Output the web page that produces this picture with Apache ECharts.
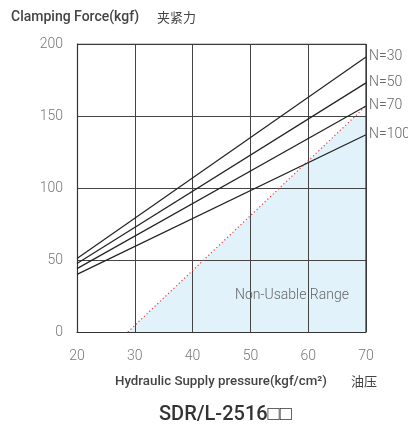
<!DOCTYPE html>
<html><head><meta charset="utf-8">
<script src="https://cdn.jsdelivr.net/npm/echarts@6/dist/echarts.min.js"></script>
<style>html,body{margin:0;padding:0;background:#fff}#c{width:408px;height:425px}</style>
</head><body><div id="c"></div>
<script>
const xTicks = [20, 30, 40, 50, 60, 70];
const yTicks = [0, 50, 100, 150, 200];
const seriesNames = ['N=30', 'N=50', 'N=70', 'N=100'];
const pressure = [20, 70];
const n30 = [51, 191];
const n50 = [47.5, 173];
const n70 = [44, 157];
const n100 = [40, 137];
const limitLine = [[28.8, 0], [70, 157]];
const nonUsableArea = [[28.8, 0], [68.2, 150], [70, 150]];

const chart = echarts.init(document.getElementById('c'));
const lineVals = [n30, n50, n70, n100];
const lineSeries = lineVals.map((vals, i) => ({
  type: 'line', name: seriesNames[i], symbol: 'none', z: 5,
  data: pressure.map((p, j) => [p, vals[j]]),
  lineStyle: {color: '#222', width: 1.2},
  endLabel: {show: true, formatter: seriesNames[i], color: '#666', fontSize: 14,
    fontFamily: 'Roboto', fontWeight: 300, distance: 3}
}));
chart.setOption({
  animation: false,
  grid: {left: 77, right: 42, top: 44, bottom: 93},
  title: [
    {text: 'Clamping Force(kgf)', left: 6, top: 5,
     textStyle: {fontSize: 14, fontWeight: 500, color: '#444', fontFamily: 'Roboto'}},
    {text: '夹紧力', left: 152, top: 6,
     textStyle: {fontSize: 13, fontWeight: 400, color: '#444', fontFamily: 'Noto Sans CJK SC'}},
    {text: 'Hydraulic Supply pressure(kgf/cm²)', left: 110, top: 370,
     textStyle: {fontSize: 13.3, fontWeight: 500, color: '#444', fontFamily: 'Roboto'}},
    {text: '油压', left: 346, top: 370,
     textStyle: {fontSize: 13, fontWeight: 400, color: '#444', fontFamily: 'Noto Sans CJK SC'}},
    {text: 'SDR/L-2516□□', left: 154, top: 400,
     textStyle: {fontSize: 20, fontWeight: 500, color: '#333', fontFamily: 'Roboto'}},
    {text: 'Non-Usable Range', left: 230, top: 283,
     textStyle: {fontSize: 14, fontWeight: 300, color: '#666', fontFamily: 'Roboto'}}
  ],
  xAxis: {type: 'value', min: xTicks[0], max: xTicks[xTicks.length - 1], interval: 10, z: 3,
    axisLine: {show: true, lineStyle: {color: '#333', width: 1.2}},
    axisTick: {show: false},
    axisLabel: {color: '#777', fontSize: 14, fontFamily: 'Roboto', fontWeight: 300, margin: 17},
    splitLine: {show: true, lineStyle: {color: '#444', width: 1}}},
  yAxis: {type: 'value', min: yTicks[0], max: yTicks[yTicks.length - 1], interval: 50, z: 3,
    axisLine: {show: true, lineStyle: {color: '#333', width: 1.2}},
    axisTick: {show: false},
    axisLabel: {color: '#777', fontSize: 14, fontFamily: 'Roboto', fontWeight: 300, margin: 14},
    splitLine: {show: true, lineStyle: {color: '#444', width: 1}}},
  series: [
    {type: 'line', symbol: 'none', z: 1, data: nonUsableArea,
     lineStyle: {width: 0}, areaStyle: {color: '#e1f2fa', opacity: 1}},
    {type: 'line', symbol: 'none', z: 4, data: limitLine,
     lineStyle: {color: '#f03a3a', width: 1.2, type: [1.2, 2.5]}},
    ...lineSeries,
    {type: 'line', symbol: 'none', z: 6, silent: true,
     data: [[70, 0], [70, 200]], lineStyle: {color: '#333', width: 1.2}},
    {type: 'line', symbol: 'none', z: 6, silent: true,
     data: [[20, 200], [70, 200]], lineStyle: {color: '#333', width: 1.2}}
  ]
});
</script></body></html>
